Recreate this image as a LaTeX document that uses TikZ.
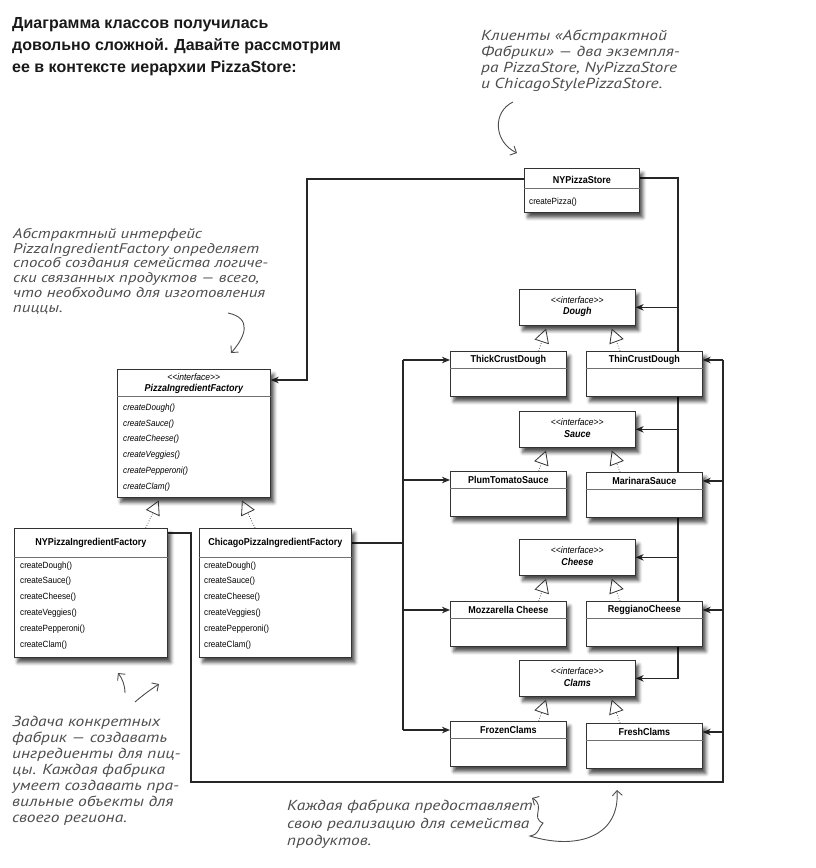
\documentclass[tikz,border=0pt]{standalone}
\usepackage{fontspec}
\setmainfont{Liberation Sans}
\newfontfamily\clsfont{Liberation Sans}[FakeStretch=0.9]
\newfontfamily\handfont{PT Sans}[FakeStretch=1.2]
\usetikzlibrary{arrows.meta,shadows.blur,backgrounds}

\definecolor{umlline}{HTML}{333333}
\definecolor{handgray}{HTML}{4D4D4D}

\tikzset{
	cls/.style={draw=umlline, fill=white, line width=0.7pt, inner sep=0pt, anchor=north west,
		blur shadow={shadow xshift=3.5pt, shadow yshift=-5pt, shadow blur radius=3.5pt, shadow opacity=70}},
	ttl/.style={font=\clsfont\bfseries\fontsize{10}{12}\selectfont, inner sep=0pt},
	ifc/.style={font=\clsfont\itshape\fontsize{9.5}{11}\selectfont, inner sep=0pt},
	ifcname/.style={font=\clsfont\bfseries\itshape\fontsize{10}{12}\selectfont, inner sep=0pt},
	mth/.style={font=\clsfont\fontsize{9}{15.8}\selectfont, align=left, inner sep=0pt, anchor=north west},
	sep/.style={draw=umlline!70, line width=0.7pt},
	wire/.style={draw=black!85, line width=1.1pt},
	assoc/.style={wire, -{Stealth[length=8pt,width=6.5pt,inset=2.5pt]}},
	real/.style={draw=umlline, line width=0.7pt, dash pattern=on 0.7pt off 1.8pt,
		-{Triangle[open,length=14pt,width=15pt,line width=0.8pt]}, shorten >=3pt},
	headline/.style={font=\bfseries\fontsize{16}{21.7}\selectfont, text=black!90, align=left, inner sep=0pt, anchor=north west},
	note/.style={font=\handfont\itshape\fontsize{14.5}{16}\selectfont, text=handgray, align=left, inner sep=0pt, anchor=north west},
	hand/.style={draw=handgray, line width=0.9pt, -{Straight Barb[length=5pt,width=10pt]}},
}

\begin{document}
\begin{tikzpicture}[x=1pt, y=-1pt]
	\useasboundingbox (0,0) rectangle (816,868);

	% texts
	\node[headline] (head) at (12,17.5) {Диаграмма классов получилась\\довольно сложной. Давайте рассмотрим\\ее в контексте иерархии PizzaStore:};
	\node[note] (clients) at (481,30) {Клиенты «Абстрактной\\Фабрики» — два экземпля-\\ра PizzaStore, NyPizzaStore\\и ChicagoStylePizzaStore.};
	\node[note, font=\handfont\itshape\fontsize{14}{14.8}\selectfont] (absnote) at (13,228) {Абстрактный интерфейс\\PizzaIngredientFactory определяет\\способ создания семейства логиче-\\ски связанных продуктов — всего,\\что необходимо для изготовления\\пиццы.};
	\node[note] (concnote) at (12,716) {Задача конкретных\\фабрик — создавать\\ингредиенты для пиц-\\цы. Каждая фабрика\\умеет создавать пра-\\вильные объекты для\\своего региона.};
	\node[note, font=\handfont\itshape\fontsize{14.5}{17.5}\selectfont] (famnote) at (287,800) {Каждая фабрика предоставляет\\свою реализацию для семейства\\продуктов.};

	% client
	\node[cls, minimum width=115pt, minimum height=44pt] (store) at (524,168) {};
	\draw[sep] ([yshift=-20pt]store.north west) -- ([yshift=-20pt]store.north east);
	\node[ttl] (store-t) at ([yshift=-12pt]store.north) {NYPizzaStore};
	\node[mth] (store-m) at ([xshift=5pt,yshift=-29.5pt]store.north west) {createPizza()};

	% abstract factory
	\node[cls, minimum width=153pt, minimum height=128pt] (absfac) at (117,369) {};
	\draw[sep] ([yshift=-27pt]absfac.north west) -- ([yshift=-27pt]absfac.north east);
	\node[ifc] (absfac-s) at ([yshift=-8pt]absfac.north) {<{}<interface>{}>};
	\node[ifcname] (absfac-t) at ([yshift=-20pt]absfac.north) {PizzaIngredientFactory};
	\node[mth, font=\clsfont\itshape\fontsize{9}{15.8}\selectfont] (absfac-m) at ([xshift=6pt,yshift=-34.5pt]absfac.north west)
		{createDough()\\createSauce()\\createCheese()\\createVeggies()\\createPepperoni()\\createClam()};

	% concrete factories
	\node[cls, minimum width=153pt, minimum height=129pt] (nyfac) at (14,528) {};
	\draw[sep] ([yshift=-29pt]nyfac.north west) -- ([yshift=-29pt]nyfac.north east);
	\node[ttl] (nyfac-t) at ([yshift=-15pt]nyfac.north) {NYPizzaIngredientFactory};
	\node[mth] (nyfac-m) at ([xshift=6pt,yshift=-33.4pt]nyfac.north west)
		{createDough()\\createSauce()\\createCheese()\\createVeggies()\\createPepperoni()\\createClam()};

	\node[cls, minimum width=152pt, minimum height=129pt] (chifac) at (199,528) {};
	\draw[sep] ([yshift=-29pt]chifac.north west) -- ([yshift=-29pt]chifac.north east);
	\node[ttl] (chifac-t) at ([yshift=-15pt]chifac.north) {ChicagoPizzaIngredientFactory};
	\node[mth] (chifac-m) at ([xshift=5pt,yshift=-33.4pt]chifac.north west)
		{createDough()\\createSauce()\\createCheese()\\createVeggies()\\createPepperoni()\\createClam()};

	% product interfaces
	\foreach \n/\y/\t in {dough/289/Dough, sauce/411/Sauce, cheese/539/Cheese, clams/660/Clams} {
		\node[cls, minimum width=116pt, minimum height=36pt] (\n) at (519,\y) {};
		\node[ifc] (\n-s) at ([yshift=-11pt]\n.north) {<{}<interface>{}>};
		\node[ifcname] (\n-t) at ([yshift=-23pt]\n.north) {\t};
	}

	% products
	\foreach \n/\x/\y/\t in {thick/450/351/ThickCrustDough, thin/586/351/ThinCrustDough,
		plum/450/471/PlumTomatoSauce, marinara/586/472/MarinaraSauce,
		mozz/450/601/Mozzarella Cheese, reggiano/586/601/ReggianoCheese,
		frozen/450/721/FrozenClams, fresh/586/723/FreshClams} {
		\node[cls, minimum width=116pt, minimum height=45pt] (\n) at (\x,\y) {};
		\draw[sep] ([yshift=-17pt]\n.north west) -- ([yshift=-17pt]\n.north east);
		\node[ttl] (\n-t) at ([yshift=-9pt]\n.north) {\t};
	}

	% buses
	\coordinate (busN) at (307,0);
	\coordinate (busL) at (403,0);
	\coordinate (busR) at (678,0);
	\coordinate (busO) at (723,0);
	\coordinate (busB) at (191,782);
	\coordinate (store-in) at ([yshift=-11pt]store.north west);
	\coordinate (store-out) at ([yshift=-10pt]store.north east);
	\coordinate (absfac-in) at ([yshift=-11pt]absfac.north east);
	\coordinate (nyfac-out) at ([yshift=-5pt]nyfac.north east);

	\begin{pgfonlayer}{background}
		\draw[assoc] (store-in) -| (absfac-in -| busN) -- (absfac-in);
		\draw[assoc] (store-out) -| (clams.east -| busR) -- (clams.east);
		\foreach \n in {dough,sauce,cheese}
			\draw[assoc] (\n.east -| busR) -- (\n.east);
		\draw[wire] (chifac.east |- chifac-t) -- (chifac-t -| busL);
		\draw[wire] (thick-t -| busL) -- (frozen-t -| busL);
		\foreach \n in {thick,plum,mozz,frozen}
			\draw[assoc] (\n-t -| busL) -- (\n.west |- \n-t);
		\draw[wire] (nyfac-out) -| (busB) -| (thin-t -| busO);
		\foreach \n in {thin,marinara,reggiano,fresh}
			\draw[assoc] (\n-t -| busO) -- (\n.east |- \n-t);
	\end{pgfonlayer}

	% implements
	\draw[real] ([xshift=-22pt]nyfac.north east) -- ([xshift=43pt]absfac.south west);
	\draw[real] ([xshift=56pt]chifac.north west) -- ([xshift=-30pt]absfac.south east);
	\foreach \p/\l/\r in {dough/thick/thin, sauce/plum/marinara, cheese/mozz/reggiano, clams/frozen/fresh} {
		\draw[real] ([xshift=-28pt]\l.north east) -- ([xshift=28pt]\p.south west);
		\draw[real] ([xshift=34pt]\r.north west) -- ([xshift=-25pt]\p.south east);
	}

	% hand arrows
	\draw[hand] (513,102) .. controls (492,112) and (494,142) .. (517,153);
	\draw[hand] (228,313) .. controls (252,318) and (246,336) .. (231,353);
	\draw[hand] (125,693) .. controls (125,685) and (122,678) .. (118,673);
	\draw[hand] (135,702) .. controls (143,695) and (150,690) .. (159,684);
	\draw[hand, {Straight Barb[length=5pt,width=10pt]}-{Straight Barb[length=5pt,width=10pt]}]
		(532,798) .. controls (546,806) and (530,818) .. (543,823)
		.. controls (538,828) and (540,834) .. (530,836)
		.. controls (575,850) and (620,838) .. (617,790);
\end{tikzpicture}
\end{document}
